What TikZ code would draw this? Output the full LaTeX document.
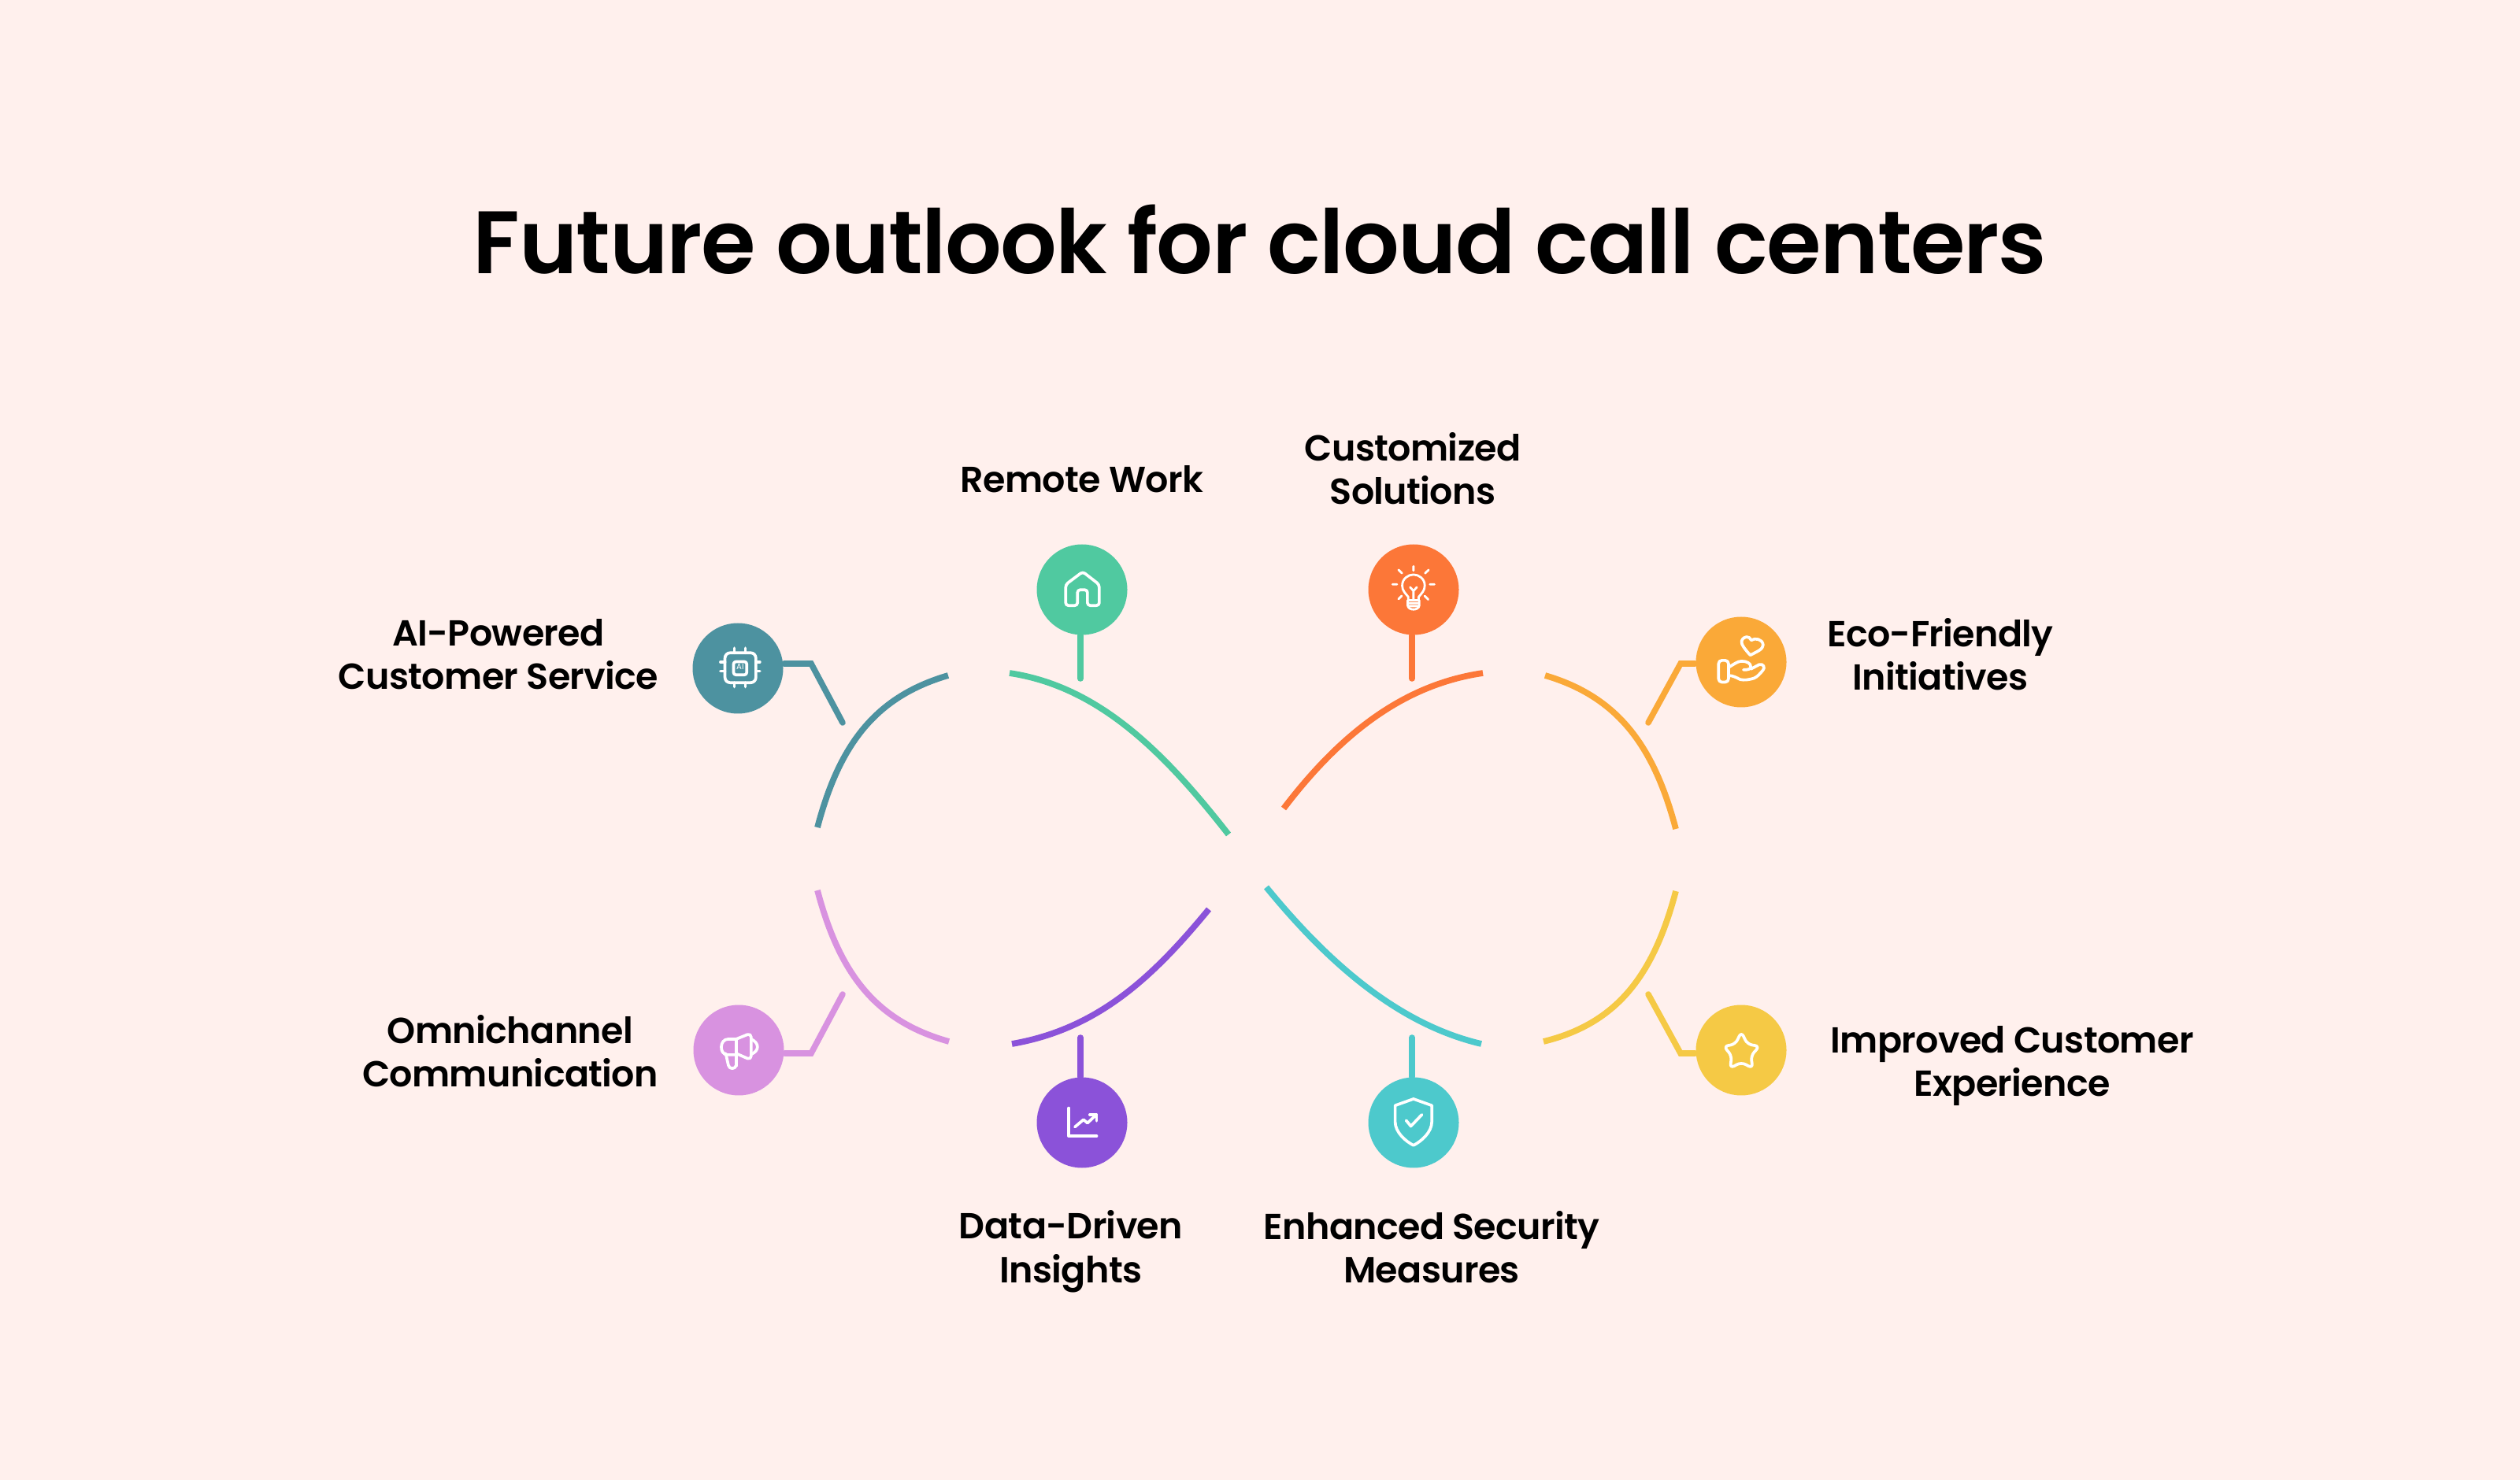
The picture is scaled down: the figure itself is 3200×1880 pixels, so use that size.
\documentclass[tikz,border=0pt]{standalone}
\usepackage{fontspec}
\newfontfamily\popsb[LetterSpace=-1.4]{Poppins SemiBold}
\newfontfamily\popai{Poppins}
\tikzset{
  lbl/.style={font=\popsb\fontsize{13.07pt}{15.8pt}\selectfont,align=center,text=black,inner sep=0pt},
  ttl/.style={font=\popsb\fontsize{32pt}{36pt}\selectfont,text=black,inner sep=0pt},
  arc/.style={line width=2.2pt},
  conn/.style={line width=2.15pt,line cap=round,miter limit=10},
  disc/.style={circle,minimum size=32.7pt,inner sep=0pt},
  icon/.style={draw=white,line width=1.05pt,line cap=round,line join=round},
  thinicon/.style={draw=white,line width=0.8pt,line cap=round,line join=round},
  zoomed/.style={shift={#1},x=0.0033333cm,y=-0.0033333cm},
}
\begin{document}
\begin{tikzpicture}[x=0.01cm,y=-0.01cm]
\definecolor{cA}{HTML}{4D92A0}\definecolor{cB}{HTML}{50C9A0}\definecolor{cC}{HTML}{FC7738}
\definecolor{cD}{HTML}{FAA938}\definecolor{cE}{HTML}{D892E0}\definecolor{cF}{HTML}{8B52D9}
\definecolor{cG}{HTML}{4DC9CC}\definecolor{cH}{HTML}{F5C945}\definecolor{bgc}{HTML}{FFF0ED}
\fill[bgc] (0,0) rectangle (3200,1880);
\useasboundingbox (0,0) rectangle (3200,1880);
\node[ttl] (title) at (1600,304) {Future outlook for cloud call centers};
\node[disc,fill=cA] (n1) at (937,849) {};
\node[disc,fill=cB] (n2) at (1374,749) {};
\node[disc,fill=cC] (n3) at (1795,749) {};
\node[disc,fill=cD] (n4) at (2211,841) {};
\node[disc,fill=cE] (n5) at (938,1334) {};
\node[disc,fill=cF] (n6) at (1374,1426) {};
\node[disc,fill=cG] (n7) at (1795,1426) {};
\node[disc,fill=cH] (n8) at (2211,1334) {};
\node[lbl] (l1) at (633,831) {AI-Powered\\Customer Service};
\node[lbl] (l2) at (1374,609) {Remote Work};
\node[lbl] (l3) at (1794,595) {Customized\\Solutions};
\node[lbl] (l4) at (2464,831) {Eco-Friendly\\Initiatives};
\node[lbl] (l5) at (648,1335) {Omnichannel\\Communication};
\node[lbl] (l6) at (1360,1590) {Data-Driven\\Insights};
\node[lbl] (l7) at (1818,1584) {Enhanced Security\\Measures};
\node[lbl] (l8) at (2555,1354) {Improved Customer\\Experience};
% curves
\draw[arc,cA] (1038,1051) .. controls (1066,945) and (1112,885) .. (1204,858);
\draw[arc,cB] (1282,855) .. controls (1395,872) and (1478,955) .. (1560,1060);
\draw[arc,cC] (1630,1027) .. controls (1700,935) and (1780,870) .. (1883,855);
\draw[arc,cD] (1962,858) .. controls (2054,885) and (2100,947) .. (2128,1053);
\draw[arc,cE] (1038,1131) .. controls (1066,1237) and (1112,1297) .. (1205,1323);
\draw[arc,cF] (1535,1155) .. controls (1465,1240) and (1395,1307) .. (1285,1326);
\draw[arc,cG] (1608,1127) .. controls (1680,1215) and (1770,1300) .. (1881,1326);
\draw[arc,cH] (2128,1132) .. controls (2100,1238) and (2054,1300) .. (1960,1323);
% connectors
\coordinate (a1) at (1030,843); \coordinate (b1) at (1070,918);
\coordinate (a2) at (1372,862); \coordinate (a3) at (1793,862);
\coordinate (a4) at (2134,843); \coordinate (b4) at (2093,918);
\coordinate (a5) at (1030,1338); \coordinate (b5) at (1070,1263);
\coordinate (a6) at (1372,1318); \coordinate (a7) at (1793,1318);
\coordinate (a8) at (2134,1338); \coordinate (b8) at (2093,1263);
\draw[conn,cA] (n1.east |- a1) -- (a1) -- (b1);
\draw[conn,cB] (a2 |- n2.south) -- (a2);
\draw[conn,cC] (a3 |- n3.south) -- (a3);
\draw[conn,cD] (n4.west |- a4) -- (a4) -- (b4);
\draw[conn,cE] (n5.east |- a5) -- (a5) -- (b5);
\draw[conn,cF] (a6) -- (a6 |- n6.north);
\draw[conn,cG] (a7) -- (a7 |- n7.north);
\draw[conn,cH] (n8.west |- a8) -- (a8) -- (b8);
% chip icon
\begin{scope}[zoomed={(860,780)}]
\draw[icon,rounded corners=1.9pt] (182,148) rectangle (300,262);
\draw[icon,rounded corners=0.8pt] (215,182) rectangle (265,232);
\draw[icon] (218,130)--(218,148) (260,130)--(260,148) (218,262)--(218,278) (260,262)--(260,278)
  (165,183)--(182,183) (165,218)--(182,218) (300,183)--(315,183) (300,218)--(315,218);
\node[text=white,font=\popai\fontsize{2.9pt}{3pt}\selectfont,inner sep=0pt] (ai) at (240,202) {AI};
\end{scope}
% home icon
\begin{scope}[zoomed={(1300,680)}]
\draw[icon,rounded corners=1pt] (205,268) -- (205,208) -- (243,208) -- (243,268) -- (288,268) -- (288,188) -- (225,139) -- (160,188) -- (160,268) -- cycle;
\end{scope}
% bulb icon
\begin{scope}[zoomed={(1720,680)}]
\draw[thinicon] (205,248) -- (205,235) .. controls (195,222) and (182,212) .. (182,192) .. controls (182,165) and (205,150) .. (225,150) .. controls (245,150) and (268,165) .. (268,192) .. controls (268,212) and (255,222) .. (245,235) -- (245,248) -- cycle;
\draw[thinicon] (203,248) -- (203,268) .. controls (205,288) and (245,288) .. (247,268) -- (247,248);
\draw[thinicon] (225,248) -- (225,212) (212,198) -- (225,212) -- (238,198) (205,259) -- (245,259) (208,270) -- (242,270);
\draw[thinicon] (225,118)--(225,135) (168,132)--(181,145) (283,132)--(269,145) (145,187)--(162,187) (288,187)--(305,187) (168,243)--(180,231) (281,245)--(268,232);
\end{scope}
% hand and heart icon
\begin{scope}[zoomed={(2140,770)}]
\draw[icon,rounded corners=1.2pt] (127,207) rectangle (165,290);
\draw[icon] (248,187) .. controls (228,165) and (212,145) .. (215,133) .. controls (222,113) and (245,112) .. (252,130) .. controls (265,120) and (295,125) .. (297,148) .. controls (298,165) and (270,175) .. cycle;
\draw[icon] (168,232) .. controls (185,222) and (200,210) .. (215,210) .. controls (235,210) and (250,218) .. (250,232) .. controls (250,240) and (240,243) .. (222,243);
\draw[icon] (250,240) -- (282,223) .. controls (298,218) and (306,235) .. (296,245) .. controls (285,258) and (275,270) .. (262,275) .. controls (240,282) and (225,283) .. (210,280) .. controls (195,272) and (180,265) .. (168,265);
\end{scope}
% megaphone icon
\begin{scope}[zoomed={(860,1270)}]
\draw[icon] (225,150) -- (195,150) .. controls (160,150) and (160,208) .. (190,210) -- (225,210);
\draw[icon,rounded corners=1.5pt] (225,150) -- (282,127) -- (282,230) -- (225,205);
\draw[icon] (225,150) -- (225,252);
\draw[icon] (185,205) -- (195,250) .. controls (198,266) and (222,266) .. (225,250);
\draw[icon] (282,150) .. controls (314,165) and (314,195) .. (282,208);
\end{scope}
% chart icon
\begin{scope}[zoomed={(1300,1360)}]
\draw[icon] (172,143) -- (172,250) -- (278,250);
\draw[icon] (195,215) -- (228,187) -- (243,200) -- (275,170);
\draw[icon] (252,168) -- (278,168) -- (278,192);
\end{scope}
% shield icon
\begin{scope}[zoomed={(1720,1360)}]
\draw[icon] (225,108) -- (295,133) -- (295,195) .. controls (295,235) and (255,270) .. (225,285) .. controls (195,270) and (155,235) .. (155,195) -- (155,133) -- cycle;
\draw[icon] (197,190) -- (215,212) -- (257,168);
\end{scope}
% star icon
\begin{scope}[zoomed={(2140,1270)}]
\draw[icon,rounded corners=1.8pt] (214,122) -- (237,170) -- (284,177) -- (250,214) -- (258,262) -- (214,238) -- (170,262) -- (178,214) -- (146,177) -- (191,170) -- cycle;
\end{scope}
\end{tikzpicture}
\end{document}
